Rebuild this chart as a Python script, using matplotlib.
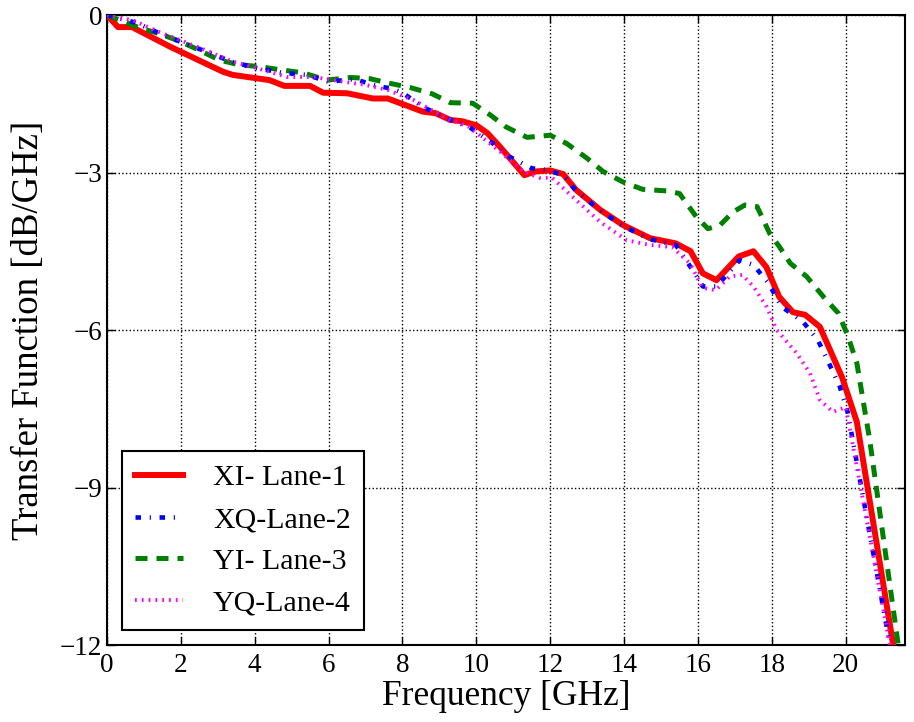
import matplotlib
matplotlib.use("Agg")
import matplotlib.pyplot as plt

# Lane transfer functions (frequency in GHz, value in dB/GHz)
f_xi = [0, 0.3, 0.68, 1.7, 3.14, 3.4, 4.4, 4.8, 5.5, 5.85, 6.5, 7.2, 7.6, 8.55, 8.9, 9.3,
        9.6, 10.0, 10.3, 10.64, 11.3, 11.6, 12.0, 12.35, 12.7, 13.35, 13.97, 14.7, 15.4,
        15.8, 16.13, 16.5, 17.1, 17.5, 17.85, 18.2, 18.57, 18.9, 19.3, 19.9, 20.3, 21.4]
v_xi = [0, -0.23, -0.23, -0.6, -1.08, -1.14, -1.24, -1.35, -1.35, -1.48, -1.49, -1.59,
        -1.59, -1.84, -1.87, -2.0, -2.02, -2.1, -2.25, -2.51, -3.05, -2.98, -2.96, -3.03,
        -3.33, -3.71, -4.0, -4.25, -4.35, -4.5, -4.92, -5.05, -4.6, -4.5, -4.8, -5.37,
        -5.66, -5.71, -5.94, -6.9, -7.75, -12.5]

f_xq = [0, 0.8, 1.43, 2.06, 2.7, 3.37, 4.0, 4.73, 5.4, 6.0, 6.7, 7.3, 7.7, 8.0, 8.55, 9.2,
        9.8, 10.4, 10.9, 11.5, 11.9, 12.35, 12.7, 13.35, 13.97, 14.7, 15.4, 15.97, 16.13,
        16.5, 17.13, 17.5, 17.9, 18.27, 18.84, 19.25, 19.57, 19.84, 20.05, 21.3]
v_xq = [0, -0.15, -0.35, -0.53, -0.7, -0.89, -1.0, -1.1, -1.14, -1.27, -1.22, -1.35,
        -1.4, -1.48, -1.75, -1.97, -2.13, -2.42, -2.7, -2.92, -2.95, -3.05, -3.35, -3.72,
        -4.02, -4.27, -4.38, -4.98, -5.17, -5.17, -4.67, -4.76, -5.1, -5.56, -5.84, -6.2,
        -6.67, -7.08, -7.56, -12.4]

f_yi = [0, 0.9, 1.4, 1.97, 2.5, 3.05, 3.6, 4.1, 4.77, 5.3, 5.95, 6.6, 7.1, 7.65, 8.2, 8.8,
        9.3, 9.9, 10.37, 10.8, 11.37, 12.0, 12.45, 13.0, 13.43, 13.97, 14.5, 15.15, 15.5,
        15.95, 16.27, 16.6, 16.95, 17.27, 17.6, 17.94, 18.2, 18.5, 18.94, 19.4, 19.8,
        20.05, 20.3, 20.65, 21.5]
v_yi = [0, -0.25, -0.35, -0.5, -0.67, -0.86, -0.95, -0.98, -1.05, -1.1, -1.24, -1.19,
        -1.21, -1.3, -1.38, -1.5, -1.67, -1.68, -1.9, -2.13, -2.33, -2.29, -2.45, -2.73,
        -2.98, -3.18, -3.32, -3.35, -3.4, -3.84, -4.07, -4.0, -3.75, -3.62, -3.65, -4.16,
        -4.41, -4.73, -4.98, -5.37, -5.68, -6.1, -6.63, -8.1, -12.4]

f_yq = [0, 0.7, 1.43, 2.06, 2.7, 3.37, 4.0, 4.87, 5.6, 6.2, 7.0, 7.6, 8.3, 9.2, 9.8, 10.64,
        11.27, 11.7, 12.05, 12.6, 13.35, 14.07, 14.7, 15.3, 15.78, 16.13, 16.48, 16.86,
        17.2, 17.5, 17.86, 18.13, 18.67, 19.03, 19.3, 19.65, 20.0, 21.3]
v_yq = [0, -0.1, -0.33, -0.5, -0.68, -0.88, -1.0, -1.18, -1.18, -1.25, -1.33, -1.43,
        -1.62, -1.97, -2.13, -2.6, -2.98, -3.1, -3.1, -3.46, -3.94, -4.29, -4.38, -4.42,
        -4.73, -5.2, -5.24, -4.98, -4.95, -5.17, -5.56, -6.0, -6.44, -6.82, -7.33, -7.56,
        -7.47, -12.4]

labels = ["XI- Lane-1", "XQ-Lane-2", "YI- Lane-3", "YQ-Lane-4"]
x_ticks = list(range(0, 21, 2))
y_ticks = [0, -3, -6, -9, -12]

plt.rcParams["font.family"] = ["Liberation Serif", "DejaVu Serif"]
plt.rcParams["xtick.direction"] = "in"
plt.rcParams["ytick.direction"] = "in"

fig = plt.figure(figsize=(9.14, 7.22), dpi=100)
ax = fig.add_axes([0.117, 0.1066, 0.873, 0.8726])

ax.plot(f_xi, v_xi, color="red", linestyle="-", linewidth=4.3, label=labels[0], zorder=3)
ax.plot(f_xq, v_xq, color="blue", linestyle=(0, (1.2, 1.9, 0.25, 1.9)), linewidth=3.3,
        label=labels[1], zorder=4)
ax.plot(f_yi, v_yi, color="green", linestyle=(0, (2.4, 1.8)), linewidth=3.6,
        label=labels[2], zorder=3)
ax.plot(f_yq, v_yq, color="magenta", linestyle=(0, (0.45, 1.3)), linewidth=2.8,
        label=labels[3], zorder=4)

ax.set_xlim(0, 21.6)
ax.set_ylim(-12, 0)
ax.set_xticks(x_ticks)
ax.set_yticks(y_ticks)
ax.set_yticklabels(["0", "\u22123", "\u22126", "\u22129", "\u221212"])
ax.tick_params(axis="both", labelsize=19.5, top=True, right=True, length=6, width=1)
ax.tick_params(axis="x", pad=6)
ax.grid(True, color="black", linestyle=":", linewidth=1)
for s in ax.spines.values():
    s.set_linewidth(1.5)

ax.set_xlabel("Frequency [GHz]", fontsize=25.5, labelpad=1)
ax.set_ylabel("Transfer Function [dB/GHz]", fontsize=26.5, labelpad=10)

leg = ax.legend(loc="lower left", fontsize=21.5, frameon=True, fancybox=False,
                edgecolor="black", framealpha=1, handlelength=1.6,
                borderpad=0.45, labelspacing=0.5, handletextpad=1.0,
                borderaxespad=0.5)
leg.get_frame().set_linewidth(1.5)

fig.savefig("out.png", dpi=100)
